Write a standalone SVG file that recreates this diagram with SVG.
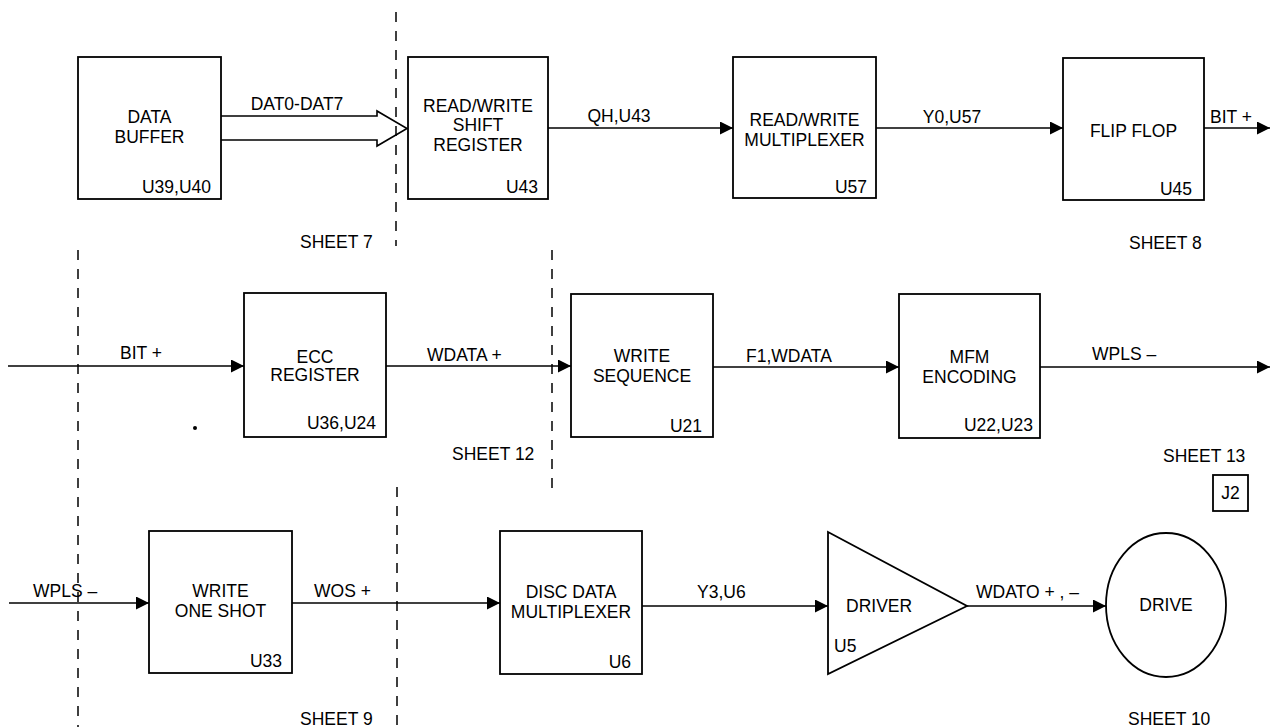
<svg xmlns="http://www.w3.org/2000/svg" width="1271" height="727" viewBox="0 0 1271 727">
<style>
.box{fill:#fff;stroke:#000;stroke-width:1.8}
.ln{fill:none;stroke:#000;stroke-width:1.6}
.dash{fill:none;stroke:#000;stroke-width:1.5;stroke-dasharray:10 9}
text{font-family:"Liberation Sans",Arial,sans-serif;fill:#000;font-size:17.5px}
.t{text-anchor:middle}
.u{text-anchor:end}
</style>
<defs>
<marker id="ah" markerUnits="userSpaceOnUse" markerWidth="14" markerHeight="13" refX="13" refY="6.5" orient="auto">
<path d="M0,0 L13,6.5 L0,13 z" fill="#000"/>
</marker>
</defs>
<rect width="1271" height="727" fill="#fff"/>

<g id="sheet-dividers">
<line class="dash" x1="396" y1="12" x2="396" y2="246"/>
<line class="dash" x1="78" y1="250" x2="78" y2="727"/>
<line class="dash" x1="552" y1="250" x2="552" y2="490"/>
<line class="dash" x1="397" y1="487" x2="397" y2="727"/>
</g>

<g id="connectors">
<path class="ln" d="M221,116 L377,116 L377,111 L407,128.5 L377,146 L377,140 L221,140" fill="#fff"/>
<line class="ln" x1="548" y1="128" x2="733" y2="128" marker-end="url(#ah)"/>
<line class="ln" x1="876" y1="128" x2="1063" y2="128" marker-end="url(#ah)"/>
<line class="ln" x1="1204" y1="128" x2="1270" y2="128" marker-end="url(#ah)"/>
<line class="ln" x1="8" y1="366" x2="244" y2="366" marker-end="url(#ah)"/>
<line class="ln" x1="386" y1="366" x2="571" y2="366" marker-end="url(#ah)"/>
<line class="ln" x1="713" y1="367" x2="899" y2="367" marker-end="url(#ah)"/>
<line class="ln" x1="1040" y1="367" x2="1270" y2="367" marker-end="url(#ah)"/>
<line class="ln" x1="9" y1="603" x2="149" y2="603" marker-end="url(#ah)"/>
<line class="ln" x1="292" y1="603" x2="500" y2="603" marker-end="url(#ah)"/>
<line class="ln" x1="642" y1="606" x2="828" y2="606" marker-end="url(#ah)"/>
<line class="ln" x1="967" y1="606" x2="1106" y2="606" marker-end="url(#ah)"/>
<text x="297" y="110" text-anchor="middle">DAT0-DAT7</text>
<text x="619" y="122" text-anchor="middle">QH,U43</text>
<text x="952" y="123" text-anchor="middle">Y0,U57</text>
<text x="1210" y="123">BIT +</text>
<text x="120" y="359">BIT +</text>
<text x="427" y="361">WDATA +</text>
<text x="746" y="362">F1,WDATA</text>
<text x="1092" y="360">WPLS –</text>
<text x="33" y="597">WPLS –</text>
<text x="314" y="597">WOS +</text>
<text x="697" y="598">Y3,U6</text>
<text x="976" y="598">WDATO + , –</text>
</g>

<g id="data-buffer">
<rect class="box" x="78" y="57" width="143" height="142"/>
<text class="t" x="149.5" y="123">DATA</text>
<text class="t" x="149.5" y="143">BUFFER</text>
<text class="u" x="211" y="193">U39,U40</text>
</g>

<g id="rw-shift-register">
<rect class="box" x="408" y="57" width="140" height="142"/>
<text class="t" x="478" y="112">READ/WRITE</text>
<text class="t" x="478" y="131">SHIFT</text>
<text class="t" x="478" y="151">REGISTER</text>
<text class="u" x="538" y="193">U43</text>
</g>

<g id="rw-multiplexer">
<rect class="box" x="733" y="57" width="143" height="141"/>
<text class="t" x="804.5" y="126">READ/WRITE</text>
<text class="t" x="804.5" y="146">MULTIPLEXER</text>
<text class="u" x="867" y="193">U57</text>
</g>

<g id="flip-flop">
<rect class="box" x="1063" y="58" width="141" height="142"/>
<text class="t" x="1133.5" y="137">FLIP FLOP</text>
<text class="u" x="1192" y="195">U45</text>
</g>

<text x="300" y="248">SHEET 7</text>
<text x="1129" y="249">SHEET 8</text>

<g id="ecc-register">
<rect class="box" x="244" y="293" width="142" height="144"/>
<text class="t" x="315" y="363">ECC</text>
<text class="t" x="315" y="381">REGISTER</text>
<text class="u" x="376" y="429">U36,U24</text>
</g>
<circle cx="195" cy="428" r="2" fill="#000"/>

<g id="write-sequence">
<rect class="box" x="571" y="294" width="142" height="143"/>
<text class="t" x="642" y="362">WRITE</text>
<text class="t" x="642" y="382">SEQUENCE</text>
<text class="u" x="702" y="432">U21</text>
</g>

<g id="mfm-encoding">
<rect class="box" x="899" y="294" width="141" height="144"/>
<text class="t" x="969.5" y="363">MFM</text>
<text class="t" x="969.5" y="383">ENCODING</text>
<text class="u" x="1033" y="431">U22,U23</text>
</g>

<text x="452" y="460">SHEET 12</text>
<text x="1163" y="462">SHEET 13</text>

<g id="j2">
<rect class="box" x="1213" y="475" width="35" height="36"/>
<text class="t" x="1230.5" y="499">J2</text>
</g>

<g id="write-one-shot">
<rect class="box" x="149" y="531" width="143" height="142"/>
<text class="t" x="220.5" y="597">WRITE</text>
<text class="t" x="220.5" y="617">ONE SHOT</text>
<text class="u" x="282" y="667">U33</text>
</g>

<g id="disc-data-multiplexer">
<rect class="box" x="500" y="531" width="142" height="143"/>
<text class="t" x="571" y="598">DISC DATA</text>
<text class="t" x="571" y="618">MULTIPLEXER</text>
<text class="u" x="631" y="668">U6</text>
</g>

<g id="driver">
<path class="box" d="M828,532 L967,606 L828,674 z"/>
<text x="846" y="612">DRIVER</text>
<text x="834" y="652">U5</text>
</g>

<g id="drive">
<ellipse class="box" cx="1166" cy="605" rx="60" ry="72"/>
<text class="t" x="1166" y="611">DRIVE</text>
</g>

<text x="300" y="725">SHEET 9</text>
<text x="1128" y="725">SHEET 10</text>
</svg>
